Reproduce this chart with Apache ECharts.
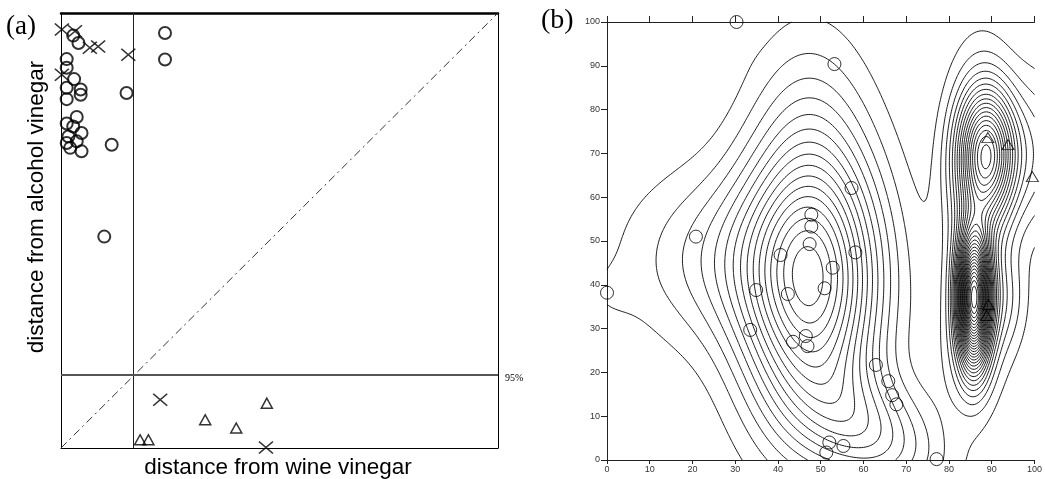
<!DOCTYPE html>
<html><head><meta charset="utf-8">
<script src="https://cdn.jsdelivr.net/npm/echarts/dist/echarts.min.js"></script>
<style>html,body{margin:0;padding:0;background:#fff}#c{width:1045px;height:479px}</style>
</head><body><div id="c"></div>
<script>
// ---------- Panel (a) data ----------
const aCircles = [[23.8,95.4],[23.8,89.3],[15.0,81.6],[11.6,69.7],[2.8,94.8],[4.0,93.1],[1.3,89.4],[1.3,87.4],[3.0,84.8],[1.3,82.8],[4.5,82.4],[4.5,81.2],[1.3,80.2],[3.6,76.1],[1.3,74.6],[2.8,73.9],[4.7,72.4],[1.7,71.6],[3.6,70.5],[2.1,69.0],[4.7,68.2],[1.3,70.1],[9.9,48.6]];
const aCrosses = [[0.2,96.2],[3.2,95.8],[6.6,92.0],[8.5,92.3],[15.4,90.4],[0.2,85.8],[22.7,11.1],[46.9,0.1]];
const aTriangles = [[18.1,1.9],[20.0,1.9],[33.0,6.5],[40.1,4.6],[47.1,10.3]];
const aThresholdX = 16.6;
const aThresholdY = 16.8;
const aDiagonal = [[0,0],[100,100]];

// ---------- Panel (b) data ----------
const bCircles = [[30.3,100],[53.2,90.4],[57.2,62.1],[47.8,56],[47.8,53.3],[20.8,51],[47.4,49.3],[40.6,46.8],[58.1,47.4],[52.8,43.9],[50.9,39.2],[0,38.2],[34.9,38.8],[42.3,37.9],[33.5,29.7],[46.5,28.3],[43.5,27],[46.9,26],[62.9,21.7],[65.8,18],[66.7,14.8],[67.7,12.7],[52,4],[55.3,3.2],[51.3,1.7],[77.1,0.2]];
const bTriangles = [[89.1,73.6],[93.8,72],[99.5,64.7],[89.2,35.5],[88.8,33]];
const bAxisMin = 0, bAxisMax = 100, bAxisStep = 10;
// density bumps: [cx, cy, sdx, sdy, rho, height]
const densityComponents = [
  [48, 39.5, 11, 22, 0, 14.5],
  [30, 46, 17, 14, 0, 3.5],
  [47, 75, 9, 18, 0, 2],
  [62, 6, 11, 10, -0.35, 5.5],
  [0, 38, 5, 5, 0, 0.5],
  [30, 100, 3, 6, 0, 0.5],
  [78, 25, 5, 14, 0, 0.7],
  [85.8, 37, 2.6, 10, 0, 27],
  [88.8, 70, 4.5, 10, 0, 15],
  [87, 57, 5.5, 22, 0, 4],
  [85.5, 22, 4.5, 8, 0, 1.5],
  [100, 70, 5, 12, 0, 3],
  [92, 36, 4, 8, 0, 2.5]
];
const contourStep = 1;
const contourCount = 45;

// ---------- contour computation ----------
function density(x, y) {
  let s = 0;
  for (const [cx, cy, sx, sy, rho, w] of densityComponents) {
    const dx = (x - cx) / sx, dy = (y - cy) / sy;
    const q = (dx*dx - 2*rho*dx*dy + dy*dy) / (1 - rho*rho);
    s += w * Math.exp(-0.5 * q);
  }
  return s;
}
function buildContours() {
  const res = 0.4;
  const xs = [], ys = [];
  for (let v = bAxisMin; v <= bAxisMax + 1e-9; v += res) { xs.push(v); ys.push(v); }
  const N = xs.length, M = ys.length;
  const F = [];
  for (let j = 0; j < M; j++) { const row = new Float64Array(N); for (let i = 0; i < N; i++) row[i] = density(xs[i], ys[j]); F.push(row); }
  const out = [];
  for (let k = 1; k <= contourCount; k++) {
    const L = k * contourStep;
    const pt = new Map();
    const sa = [], sb = [];
    const hId = (i, j) => j * N + i;
    const vId = (i, j) => N * M + j * N + i;
    const hPt = (i, j) => { const id = hId(i, j); if (!pt.has(id)) { const a = F[j][i], b = F[j][i+1]; const t = (L - a) / (b - a); pt.set(id, [xs[i] + t * (xs[i+1] - xs[i]), ys[j]]); } return id; };
    const vPt = (i, j) => { const id = vId(i, j); if (!pt.has(id)) { const a = F[j][i], b = F[j+1][i]; const t = (L - a) / (b - a); pt.set(id, [xs[i], ys[j] + t * (ys[j+1] - ys[j])]); } return id; };
    for (let j = 0; j < M - 1; j++) {
      for (let i = 0; i < N - 1; i++) {
        const v0 = F[j][i], v1 = F[j][i+1], v2 = F[j+1][i+1], v3 = F[j+1][i];
        const b0 = v0 >= L, b1 = v1 >= L, b2 = v2 >= L, b3 = v3 >= L;
        if (b0 === b1 && b1 === b2 && b2 === b3) continue;
        const e0 = b0 !== b1 ? hPt(i, j) : -1;
        const e1 = b1 !== b2 ? vPt(i+1, j) : -1;
        const e2 = b3 !== b2 ? hPt(i, j+1) : -1;
        const e3 = b0 !== b3 ? vPt(i, j) : -1;
        const list = [e0, e1, e2, e3].filter(e => e >= 0);
        if (list.length === 2) { sa.push(list[0]); sb.push(list[1]); }
        else if (list.length === 4) {
          const c = (v0 + v1 + v2 + v3) / 4 >= L;
          if (c === b0) { sa.push(e0); sb.push(e1); sa.push(e2); sb.push(e3); }
          else { sa.push(e3); sb.push(e0); sa.push(e1); sb.push(e2); }
        }
      }
    }
    const adj = new Map();
    for (let s = 0; s < sa.length; s++) {
      for (const e of [sa[s], sb[s]]) { let l = adj.get(e); if (!l) { l = []; adj.set(e, l); } l.push(s); }
    }
    const used = new Uint8Array(sa.length);
    const step = (cur) => { const l = adj.get(cur); for (const s of l) if (!used[s]) { used[s] = 1; return sa[s] === cur ? sb[s] : sa[s]; } return -1; };
    for (let s = 0; s < sa.length; s++) {
      if (used[s]) continue;
      used[s] = 1;
      const fwd = [sa[s], sb[s]];
      let cur = sb[s];
      while (true) { const nx = step(cur); if (nx < 0) break; fwd.push(nx); cur = nx; if (nx === fwd[0]) break; }
      const back = [];
      cur = fwd[0];
      while (true) { const nx = step(cur); if (nx < 0) break; back.push(nx); cur = nx; }
      const chain = back.reverse().concat(fwd);
      out.push({ coords: chain.map(id => pt.get(id)) });
    }
  }
  return out;
}
const contourLines = buildContours();

// ---------- chart ----------
const chart = echarts.init(document.getElementById('c'), null, { renderer: 'canvas' });
const crossPath = 'path://M0,0L10,10M10,0L0,10';
const hidden = { show: false };
const tickFont = { fontFamily: 'Liberation Sans', fontSize: 9, color: '#333' };

chart.setOption({
  animation: false,
  backgroundColor: '#fff',
  grid: [
    { left: 61, top: 13, width: 437, height: 435, show: false },
    { left: 607, top: 22, width: 438, height: 438, show: false }
  ],
  xAxis: [
    { gridIndex: 0, type: 'value', min: 0, max: 100, position: 'bottom', axisLine: { show: true, onZero: false, lineStyle: { color: '#000', width: 1 } }, axisTick: hidden, axisLabel: hidden, splitLine: hidden },
    { gridIndex: 0, type: 'value', min: 0, max: 100, position: 'top', axisLine: { show: true, onZero: false, lineStyle: { color: '#000', width: 2.5 } }, axisTick: hidden, axisLabel: hidden, splitLine: hidden },
    { gridIndex: 1, type: 'value', min: bAxisMin, max: bAxisMax, interval: bAxisStep, position: 'bottom',
      axisLine: { show: true, onZero: false, lineStyle: { color: '#222', width: 1 } },
      axisTick: { show: true, length: 4, lineStyle: { color: '#222' } },
      axisLabel: Object.assign({ margin: 5, showMaxLabel: true }, tickFont), splitLine: hidden },
    { gridIndex: 1, type: 'value', min: bAxisMin, max: bAxisMax, interval: bAxisStep, position: 'top',
      axisLine: { show: true, onZero: false, lineStyle: { color: '#222', width: 1 } },
      axisTick: { show: true, length: 6, lineStyle: { color: '#222' } },
      axisLabel: hidden, splitLine: hidden }
  ],
  yAxis: [
    { gridIndex: 0, type: 'value', min: 0, max: 100, position: 'left', axisLine: { show: true, onZero: false, lineStyle: { color: '#000', width: 1 } }, axisTick: hidden, axisLabel: hidden, splitLine: hidden },
    { gridIndex: 0, type: 'value', min: 0, max: 100, position: 'right', axisLine: { show: true, onZero: false, lineStyle: { color: '#000', width: 1 } }, axisTick: hidden, axisLabel: hidden, splitLine: hidden },
    { gridIndex: 1, type: 'value', min: bAxisMin, max: bAxisMax, interval: bAxisStep, position: 'left',
      axisLine: { show: true, onZero: false, lineStyle: { color: '#222', width: 1 } },
      axisTick: { show: true, length: 6, lineStyle: { color: '#222' } },
      axisLabel: Object.assign({ margin: 7 }, tickFont), splitLine: hidden }
  ],
  series: [
    { type: 'line', xAxisIndex: 0, yAxisIndex: 0, data: aDiagonal, symbol: 'none', silent: true,
      lineStyle: { color: '#333', width: 1, type: [8, 4, 2, 4] }, z: 1 },
    { type: 'scatter', xAxisIndex: 0, yAxisIndex: 0, data: [], silent: true,
      markLine: { silent: true, symbol: 'none', label: { show: false }, animation: false,
        data: [
          { xAxis: aThresholdX, lineStyle: { color: '#222', width: 1, type: 'solid' } },
          { yAxis: aThresholdY, lineStyle: { color: '#555', width: 2, type: 'solid' } }
        ] } },
    { type: 'scatter', name: 'circles', xAxisIndex: 0, yAxisIndex: 0, data: aCircles, symbol: 'circle', symbolSize: 12,
      itemStyle: { color: 'rgba(255,255,255,0)', borderColor: '#000', borderWidth: 2 }, z: 5 },
    { type: 'scatter', name: 'crosses', xAxisIndex: 0, yAxisIndex: 0, data: aCrosses, symbol: crossPath, symbolSize: [14, 12],
      itemStyle: { color: 'rgba(0,0,0,0)', borderColor: '#000', borderWidth: 1.5 }, z: 5 },
    { type: 'scatter', name: 'triangles', xAxisIndex: 0, yAxisIndex: 0, data: aTriangles, symbol: 'triangle', symbolSize: [11, 10],
      itemStyle: { color: 'rgba(255,255,255,0)', borderColor: '#000', borderWidth: 1.5 }, z: 5 },
    { type: 'lines', coordinateSystem: 'cartesian2d', xAxisIndex: 2, yAxisIndex: 2, polyline: true, silent: true,
      data: contourLines, lineStyle: { color: '#000', width: 0.9, opacity: 1, curveness: 0 }, z: 2 },
    { type: 'scatter', xAxisIndex: 2, yAxisIndex: 2, data: bCircles, symbol: 'circle', symbolSize: 13,
      itemStyle: { color: 'rgba(255,255,255,0)', borderColor: '#000', borderWidth: 1 }, z: 5 },
    { type: 'scatter', xAxisIndex: 2, yAxisIndex: 2, data: bTriangles, symbol: 'triangle', symbolSize: [12, 10],
      itemStyle: { color: 'rgba(255,255,255,0)', borderColor: '#000', borderWidth: 1 }, z: 5 }
  ],
  graphic: [
    { type: 'text', left: 6, top: 13, style: { text: '(a)', font: '27px "Liberation Serif"', fill: '#000' } },
    { type: 'text', left: 541, top: 7, style: { text: '(b)', font: '28px "Liberation Serif"', fill: '#000' } },
    { type: 'text', left: 505, top: 373, style: { text: '95%', font: '10px "Liberation Serif"', fill: '#000' } },
    { type: 'text', x: 37, y: 207, rotation: Math.PI / 2,
      style: { text: 'distance from alcohol vinegar', font: '22.5px "Liberation Sans"', fill: '#000', align: 'center', verticalAlign: 'middle', textAlign: 'center', textVerticalAlign: 'middle' } },
    { type: 'text', x: 278, y: 468,
      style: { text: 'distance from wine vinegar', font: '22.5px "Liberation Sans"', fill: '#000', align: 'center', verticalAlign: 'middle', textAlign: 'center', textVerticalAlign: 'middle' } }
  ]
});
</script></body></html>
